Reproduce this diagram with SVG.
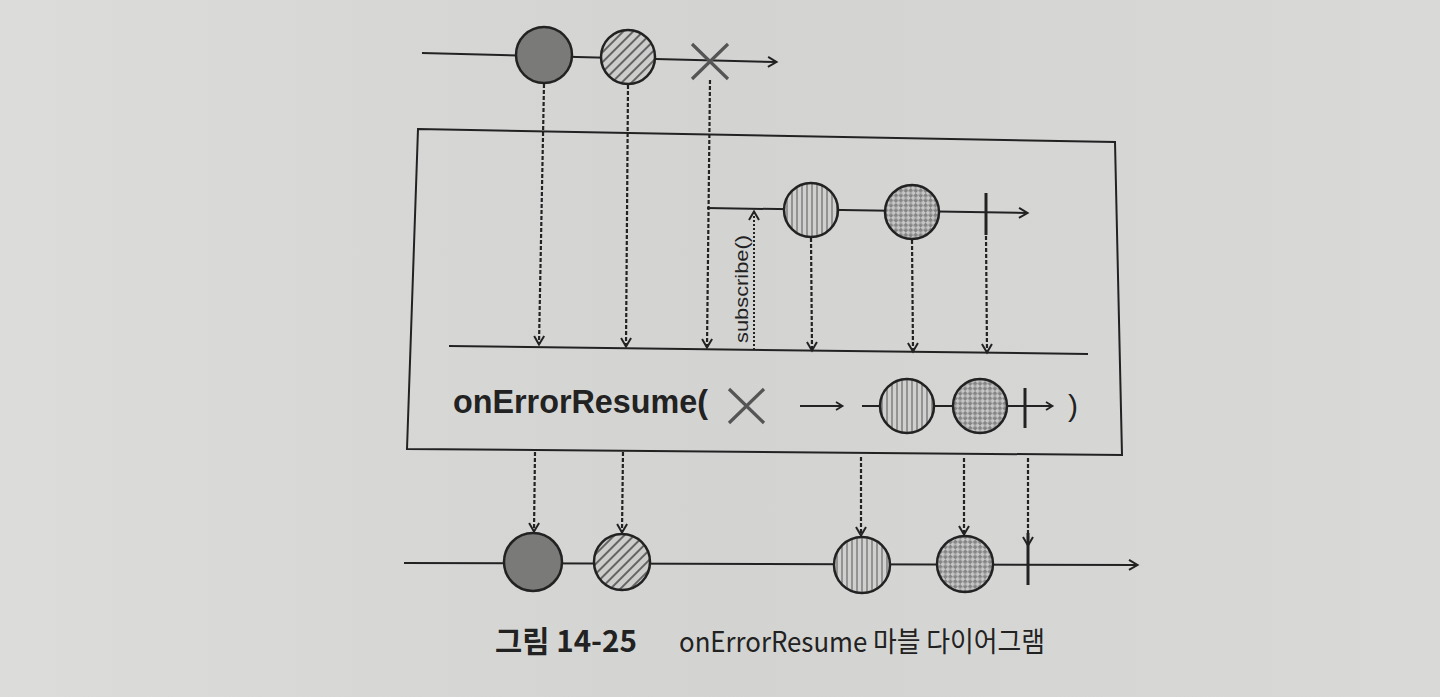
<svg xmlns="http://www.w3.org/2000/svg" width="1440" height="697" viewBox="0 0 1440 697">
<defs>
<linearGradient id="bg" x1="0" y1="0" x2="1" y2="0">
<stop offset="0" stop-color="#dcdddb"/>
<stop offset="0.5" stop-color="#d3d4d2"/>
<stop offset="1" stop-color="#d9dad8"/>
</linearGradient>
<pattern id="diag" width="7" height="7" patternUnits="userSpaceOnUse" patternTransform="rotate(45)">
<rect width="7" height="7" fill="#cdcecc"/>
<line x1="1" y1="0" x2="1" y2="7" stroke="#4a4a4a" stroke-width="1.6"/>
</pattern>
<pattern id="vstripe" width="5" height="5" patternUnits="userSpaceOnUse">
<rect width="5" height="5" fill="#d0d1cf"/>
<line x1="2" y1="0" x2="2" y2="5" stroke="#555" stroke-width="1"/>
</pattern>
<pattern id="checker" width="7" height="7" patternUnits="userSpaceOnUse" patternTransform="rotate(45)">
<rect width="7" height="7" fill="#c6c7c5"/>
<rect width="3.5" height="3.5" fill="#858585"/>
<rect x="3.5" y="3.5" width="3.5" height="3.5" fill="#858585"/>
</pattern>
<marker id="arr" markerWidth="14" markerHeight="14" refX="10" refY="7" orient="auto" markerUnits="userSpaceOnUse">
<path d="M2,2 L10.5,7 L2,12" fill="none" stroke="#222" stroke-width="2"/>
</marker>
<marker id="arrs" markerWidth="12" markerHeight="12" refX="9" refY="6" orient="auto" markerUnits="userSpaceOnUse">
<path d="M3,2 L9.5,6 L3,10" fill="none" stroke="#222" stroke-width="1.8"/>
</marker>
</defs>
<style>
.ln{stroke:#222;stroke-width:2;fill:none}
.dash{stroke:#222;stroke-width:2.2;stroke-dasharray:4 2;fill:none}
.dot{stroke:#222;stroke-width:2;stroke-dasharray:2 2;fill:none}
.bar{stroke:#222;stroke-width:3}
.x{stroke:#555;stroke-width:3.2;fill:none}
.c{stroke:#222;stroke-width:2.5}
.dark{fill:#7a7b79}
.hatch{fill:url(#diag)}
.vs{fill:url(#vstripe)}
.ck{fill:url(#checker)}
.t{font-family:"Liberation Sans","Noto Sans",sans-serif;fill:#222}
.k{font-family:"Noto Sans CJK KR","Noto Sans",sans-serif;fill:#222}
</style>
<rect width="1440" height="697" fill="url(#bg)"/>

<g id="connectors">
<line class="ln" x1="422" y1="53" x2="776" y2="62" marker-end="url(#arr)"/>
<line class="ln" x1="707" y1="208" x2="1027" y2="213" marker-end="url(#arr)"/>
<line class="ln" x1="449" y1="346" x2="1088" y2="354"/>
<line class="ln" x1="404" y1="563" x2="1137" y2="565" marker-end="url(#arr)"/>
<line class="dash" x1="544" y1="84" x2="539" y2="344" marker-end="url(#arr)"/>
<line class="dash" x1="628" y1="85" x2="626" y2="346" marker-end="url(#arr)"/>
<line class="dash" x1="710" y1="80" x2="707" y2="347" marker-end="url(#arr)"/>
<line class="dot" x1="754" y1="350" x2="754" y2="212" marker-end="url(#arr)"/>
<line class="dash" x1="811" y1="238" x2="812" y2="350" marker-end="url(#arr)"/>
<line class="dash" x1="912" y1="240" x2="913" y2="351" marker-end="url(#arr)"/>
<line class="dash" x1="986" y1="236" x2="987" y2="352" marker-end="url(#arr)"/>
<line class="dash" x1="535" y1="452" x2="534" y2="531" marker-end="url(#arr)"/>
<line class="dash" x1="623" y1="452" x2="622" y2="532" marker-end="url(#arr)"/>
<line class="dash" x1="861" y1="457" x2="861" y2="535" marker-end="url(#arr)"/>
<line class="dash" x1="964" y1="458" x2="964" y2="534" marker-end="url(#arr)"/>
<line class="dash" x1="1028" y1="458" x2="1028" y2="545" marker-end="url(#arr)"/>
</g>

<g id="operator-box">
<path class="ln" d="M418,129 L1115,142 L1122,455 L407,449 Z"/>
</g>

<g id="source">
<circle id="src-1" class="c dark" cx="544" cy="55" r="28"/>
<circle id="src-2" class="c hatch" cx="628" cy="57" r="27"/>
<g id="src-error"><path class="x" d="M692,44 L728,79 M728,44 L692,79"/></g>
</g>

<g id="fallback">
<circle id="fb-1" class="c vs" cx="811" cy="210" r="27"/>
<circle id="fb-2" class="c ck" cx="912" cy="212" r="27"/>
<line id="fb-complete" class="bar" x1="986" y1="193" x2="986" y2="235"/>
</g>

<g id="subscribe-label">
<text class="t" x="0" y="0" font-size="18" text-anchor="middle" textLength="108" lengthAdjust="spacingAndGlyphs" transform="translate(748,289) rotate(-90)">subscribe()</text>
</g>

<g id="operator-label">
<text class="t" x="453" y="413" font-size="34" font-weight="bold" textLength="255" lengthAdjust="spacingAndGlyphs">onErrorResume(</text>
<path class="x" d="M729,389 L764,423 M764,389 L729,423"/>
<line class="ln" x1="800" y1="406" x2="842" y2="406" marker-end="url(#arrs)"/>
<line class="ln" x1="862" y1="406" x2="1052" y2="406" marker-end="url(#arrs)"/>
<circle class="c vs" cx="907" cy="406" r="27"/>
<circle class="c ck" cx="980" cy="406" r="27"/>
<line class="bar" x1="1025" y1="388" x2="1025" y2="428"/>
<text class="t" x="1068" y="416" font-size="30">)</text>
</g>

<g id="output">
<circle id="out-1" class="c dark" cx="533" cy="562" r="29"/>
<circle id="out-2" class="c hatch" cx="622" cy="562" r="28"/>
<circle id="out-3" class="c vs" cx="862" cy="565" r="28"/>
<circle id="out-4" class="c ck" cx="965" cy="564" r="28"/>
<line id="out-complete" class="bar" x1="1028" y1="533" x2="1028" y2="585"/>
</g>

<g id="caption">
<text class="k" x="495" y="652" font-size="30" font-weight="bold" textLength="142" lengthAdjust="spacingAndGlyphs">그림 14-25</text>
<text class="k" x="679" y="652" font-size="28" textLength="366" lengthAdjust="spacingAndGlyphs">onErrorResume 마블 다이어그램</text>
</g>
</svg>
